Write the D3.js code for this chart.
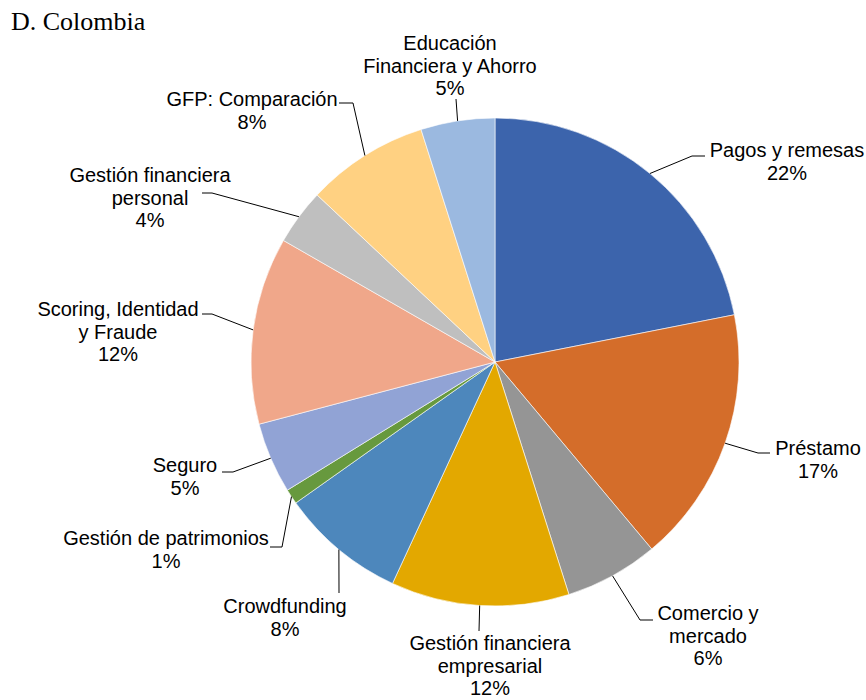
<!DOCTYPE html>
<html>
<head>
<meta charset="utf-8">
<script src="https://cdn.jsdelivr.net/npm/d3@7"></script>
<style>
  html, body { margin: 0; padding: 0; background: #ffffff; }
  svg { display: block; }
</style>
</head>
<body>
<svg id="chart" width="866" height="700"></svg>
<script>
// ---- Data ----
const title = "D. Colombia";
const categories = [
  ["Pagos y remesas"],
  ["Préstamo"],
  ["Comercio y", "mercado"],
  ["Gestión financiera", "empresarial"],
  ["Crowdfunding"],
  ["Gestión de patrimonios"],
  ["Seguro"],
  ["Scoring, Identidad", "y Fraude"],
  ["Gestión financiera", "personal"],
  ["GFP: Comparación"],
  ["Educación", "Financiera y Ahorro"]
];
const values = [21.9, 17.0, 6.2, 11.8, 8.3, 1.0, 4.7, 12.4, 3.7, 8.1, 4.9];
const colors = ["#3C64AC", "#D46D2A", "#959595", "#E3A800", "#4D87BC", "#67993E",
                "#91A3D5", "#F0A78A", "#BFBFBF", "#FFD182", "#9BB9E0"];

// ---- Layout (label placement: text centre x, first baseline y, leader elbow/end) ----
const labelLayout = [
  { x: 787, y: 157, elbow: [692, 156], end: [705, 156] },
  { x: 818, y: 455, elbow: [758, 453], end: [770, 453] },
  { x: 708, y: 620, elbow: [640, 620], end: [653, 620] },
  { x: 490, y: 650, elbow: null,       end: [479, 631] },
  { x: 285, y: 613, elbow: null,       end: [339, 593] },
  { x: 166, y: 545, elbow: [282, 547], end: [270, 547] },
  { x: 185, y: 472, elbow: [233, 472], end: [222, 472] },
  { x: 118, y: 316, elbow: [212, 314], end: [202, 314] },
  { x: 150, y: 182, elbow: [212, 193], end: [202, 193] },
  { x: 252, y: 106, elbow: [353, 103], end: [339, 103] },
  { x: 450, y: 50,  elbow: null,       end: [456, 99] }
];

const cx = 495, cy = 362, radius = 244;
const lineH = 22.5;

const svg = d3.select("#chart");

svg.append("text")
  .attr("x", 11).attr("y", 30)
  .attr("font-family", "'Liberation Serif', 'Times New Roman', serif")
  .attr("font-size", 26)
  .attr("fill", "#000")
  .text(title);

const pie = d3.pie().sort(null).value(d => d)(values);
const arc = d3.arc().innerRadius(0).outerRadius(radius);
const edgeArc = d3.arc().innerRadius(radius).outerRadius(radius);

const g = svg.append("g").attr("transform", `translate(${cx},${cy})`);

g.selectAll("path.slice")
  .data(pie)
  .join("path")
  .attr("class", "slice")
  .attr("d", arc)
  .attr("fill", (d, i) => colors[i])
  .attr("stroke", "#ffffff")
  .attr("stroke-width", 0.6);

// leader lines
svg.selectAll("path.leader")
  .data(pie)
  .join("path")
  .attr("class", "leader")
  .attr("fill", "none")
  .attr("stroke", "#000")
  .attr("stroke-width", 1)
  .attr("d", (d, i) => {
    const c = edgeArc.centroid(d);
    const p0 = [c[0] + cx, c[1] + cy];
    const L = labelLayout[i];
    const pts = [p0];
    if (L.elbow) pts.push(L.elbow);
    pts.push(L.end);
    return d3.line()(pts);
  });

// labels
const labels = svg.selectAll("text.lbl")
  .data(pie)
  .join("text")
  .attr("class", "lbl")
  .attr("font-family", "'Liberation Sans', Arial, sans-serif")
  .attr("font-size", 20)
  .attr("fill", "#000")
  .attr("text-anchor", "middle");

labels.each(function(d, i) {
  const L = labelLayout[i];
  const lines = categories[i].concat([Math.round(values[i]) + "%"]);
  d3.select(this).selectAll("tspan")
    .data(lines)
    .join("tspan")
    .attr("x", L.x)
    .attr("y", (t, j) => L.y + j * lineH)
    .text(t => t);
});
</script>
</body>
</html>
